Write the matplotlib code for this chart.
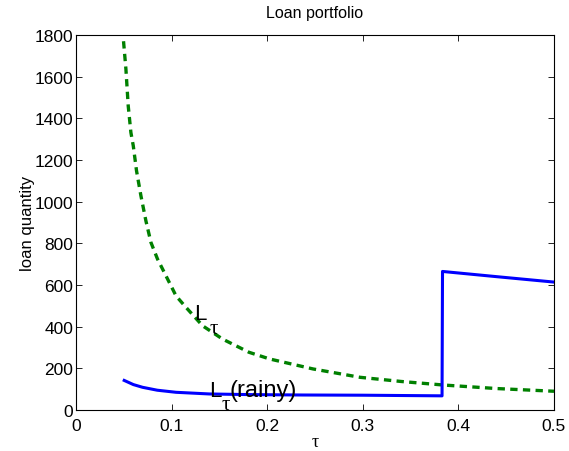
import matplotlib

matplotlib.use("Agg")
import matplotlib.pyplot as plt

# loan quantity L_tau read along tau
tau_all = [0.0497, 0.0522, 0.0546, 0.0574, 0.0599, 0.0633, 0.0679, 0.0731,
           0.0784, 0.0853, 0.0906, 0.0976, 0.1046, 0.1144, 0.1325, 0.1535,
           0.181, 0.2025, 0.2338, 0.248, 0.297, 0.34, 0.384, 0.44, 0.5]
loan_all = [1770, 1636, 1460, 1332, 1268, 1148, 1028, 908,
            804, 724, 676, 612, 548, 496, 404, 340,
            277, 245, 212, 197, 157, 137, 120, 103, 90]

# rainy-state loan quantity, with the jump near tau = 0.383
tau_rainy = [0.0504, 0.06, 0.0696, 0.085, 0.1046, 0.1395, 0.18, 0.237, 0.3,
             0.3829, 0.3834, 0.44, 0.5]
loan_rainy = [142, 122, 109, 95, 85, 77, 74, 72, 71,
              68, 665, 640, 614]

plt.rcParams["font.family"] = ["Liberation Sans", "DejaVu Sans"]

figure = plt.figure(figsize=(5.69, 4.52), dpi=100, facecolor="white")
axis = figure.add_axes([0.1336, 0.0907, 0.84, 0.8297])

axis.plot(tau_all, loan_all, color="#008000", linestyle=(0, (2.2, 1.6)),
          linewidth=2.4)
axis.plot(tau_rainy, loan_rainy, color="#0000ff", linewidth=2.2)

greek = ["Liberation Serif", "DejaVu Serif"]
axis.text(0.1238, 436, "L", fontsize=16, color="black")
axis.text(0.1395, 370, "τ", fontsize=15, color="black", family=greek)
axis.text(0.1395, 69, "L", fontsize=16, color="black")
axis.text(0.1518, 6, "τ", fontsize=15, color="black", family=greek)
axis.text(0.161, 69, "(rainy)", fontsize=17, color="black")

axis.set_xlim(0, 0.5)
axis.set_ylim(0, 1800)
axis.set_xticks([0, 0.1, 0.2, 0.3, 0.4, 0.5])
axis.set_xticklabels(["0", "0.1", "0.2", "0.3", "0.4", "0.5"])
axis.set_yticks(range(0, 1801, 200))
axis.tick_params(direction="in", top=True, right=True, labelsize=12.5,
                 length=4, width=0.6)
axis.tick_params(axis="x", pad=6)
axis.tick_params(axis="y", pad=2)
for spine in axis.spines.values():
    spine.set_linewidth(0.8)

axis.set_title("Loan portfolio", fontsize=11.5, pad=13)
axis.set_xlabel("τ", fontsize=13, labelpad=0, family=greek)
axis.set_ylabel("loan quantity", fontsize=12, labelpad=0)

figure.savefig("out.png", dpi=100, facecolor="white")
plt.close(figure)
